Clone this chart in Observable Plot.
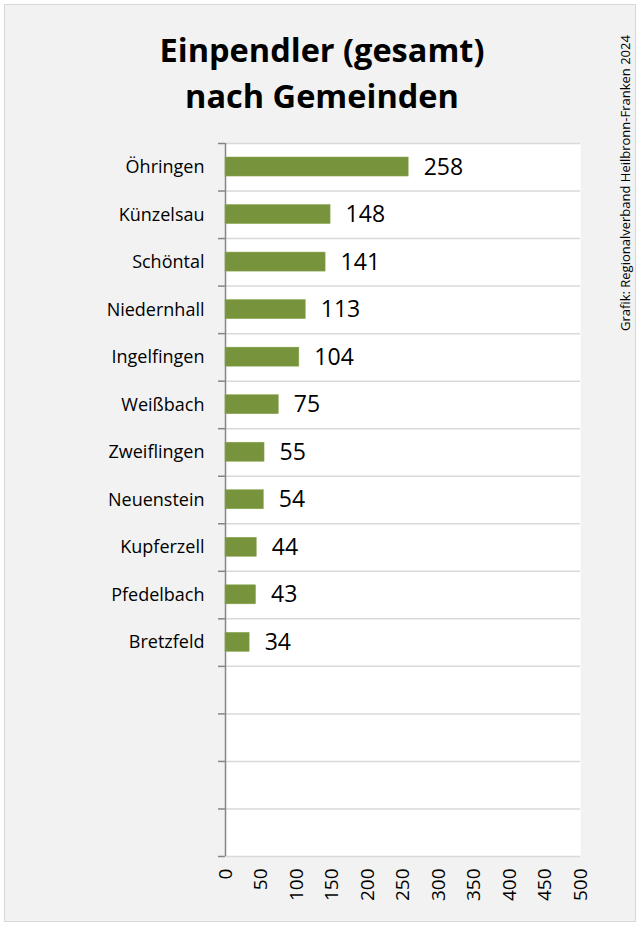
<!DOCTYPE html>
<html><head><meta charset="utf-8">
<script src="https://cdn.jsdelivr.net/npm/d3@7"></script>
<script src="https://cdn.jsdelivr.net/npm/@observablehq/plot@0.6"></script>
<style>
body{margin:0;background:#fff;}
#wrap{position:relative;width:640px;height:925px;background:#fff;overflow:hidden;font-family:"Open Sans",Lato,sans-serif;}
#frame{position:absolute;left:4px;top:4px;width:630px;height:916px;background:#f2f2f2;border:1px solid #d9d9d9;}
#title{position:absolute;left:0;width:644px;top:27px;text-align:center;font-weight:bold;font-size:32.5px;line-height:46px;color:#000;}
#caption{position:absolute;left:616px;top:15px;height:316px;writing-mode:vertical-rl;transform:rotate(180deg);font-size:13px;line-height:18px;color:#000;white-space:nowrap;}
#chart{position:absolute;left:0;top:0;}
</style></head>
<body>
<div id="wrap">
  <div id="frame"></div>
  <div id="title">Einpendler (gesamt)<br>nach Gemeinden</div>
  <div id="caption">Grafik: Regionalverband Heilbronn-Franken 2024</div>
  <div id="chart"></div>
</div>
<script>
const gemeinden = ["Öhringen","Künzelsau","Schöntal","Niedernhall","Ingelfingen","Weißbach","Zweiflingen","Neuenstein","Kupferzell","Pfedelbach","Bretzfeld"];
const einpendler = [258,148,141,113,104,75,55,54,44,43,34];
const rowCount = 15;
const xTicks = [0,50,100,150,200,250,300,350,400,450,500];

const data = gemeinden.map((name, i) => ({name, value: einpendler[i], row: i}));
const boundaries = d3.range(0, rowCount + 1);

const chart = Plot.plot({
  width: 640,
  height: 925,
  marginLeft: 225,
  marginRight: 60,
  marginTop: 143,
  marginBottom: 69,
  style: {background: "transparent", fontFamily: "'Open Sans', Lato, sans-serif", color: "#000"},
  x: {domain: [0, 500]},
  y: {domain: [rowCount, 0]},
  marks: [
    Plot.frame({fill: "white", stroke: null}),
    Plot.ruleY(boundaries, {stroke: "#d9d9d9", strokeWidth: 1.5}),
    Plot.axisY({ticks: boundaries, tickFormat: () => "", tickSize: 7, stroke: "#868686", strokeWidth: 1.5, label: null}),
    Plot.ruleX([0], {stroke: "#868686", strokeWidth: 1.5}),
    Plot.rectX(data, {x1: 0, x2: "value", y1: "row", y2: d => d.row + 1, insetTop: 14, insetBottom: 14.5, fill: "#77933c", stroke: "#8aa64e", strokeWidth: 0.5}),
    Plot.text(data, {x: "value", y: d => d.row + 0.5, text: d => String(d.value), textAnchor: "start", dx: 15, fontSize: 23, fill: "#000"}),
    Plot.text(data, {x: 0, y: d => d.row + 0.5, text: "name", textAnchor: "end", dx: -21, fontSize: 18, fill: "#000"}),
    Plot.axisX({ticks: xTicks, tickRotate: -90, tickSize: 0, tickPadding: 12, fontSize: 19, color: "#000", label: null})
  ]
});
document.getElementById("chart").appendChild(chart);
</script>
</body></html>
